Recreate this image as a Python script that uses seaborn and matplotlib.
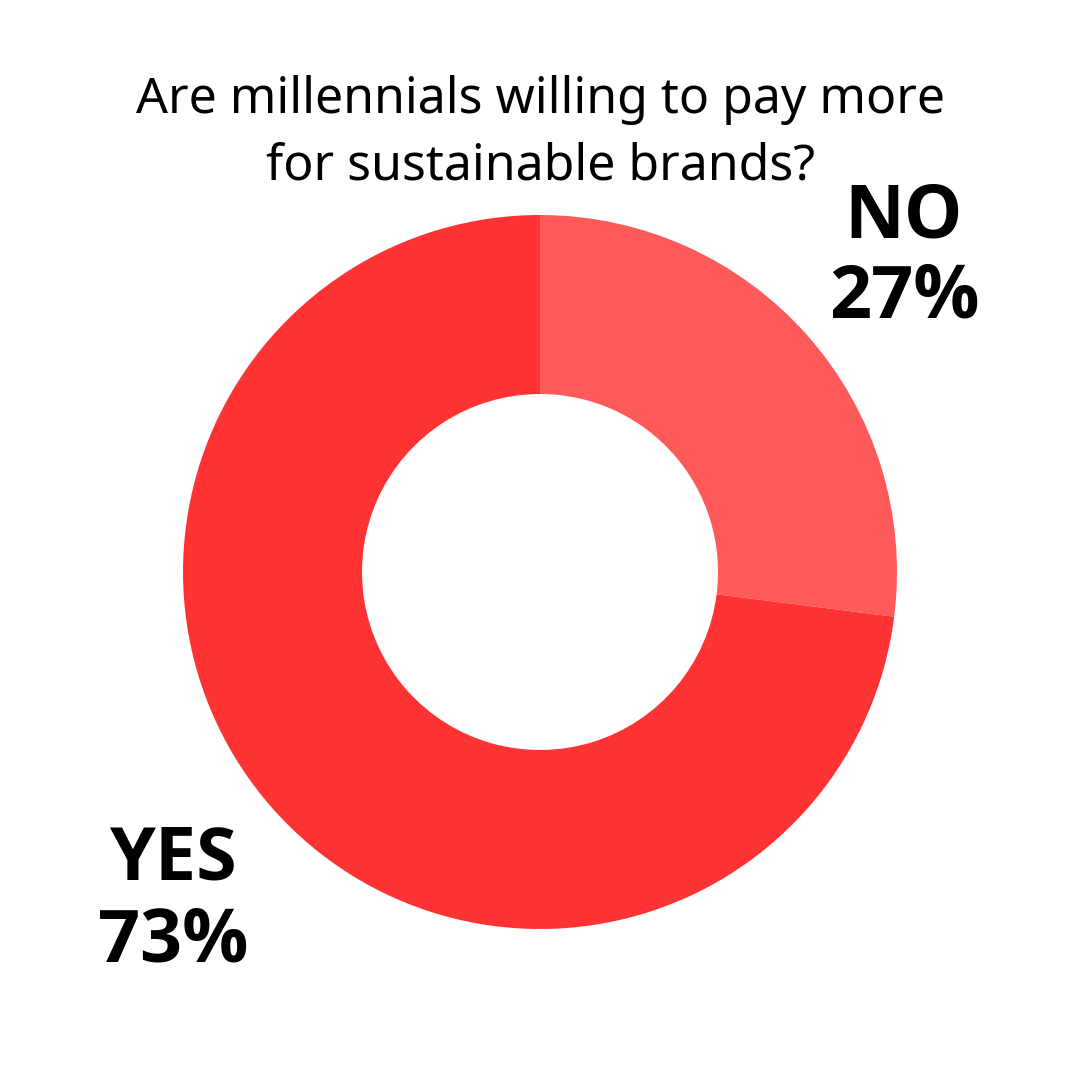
import matplotlib
matplotlib.use("Agg")
import matplotlib.pyplot as plt
import seaborn as sns

title_lines = ["Are millennials willing to pay more", "for sustainable brands?"]
categories = ["NO", "YES"]
values = [27, 73]
colors = ["#FF5A5A", "#FF3333"]

sns.set_theme(style="white")
plt.rcParams['font.family'] = ['Noto Sans', 'DejaVu Sans']

fig = plt.figure(figsize=(10.8, 10.8), dpi=100)
ax = fig.add_axes([0, 0, 1, 1])

ax.pie(values, colors=colors, startangle=90, counterclock=False,
       center=(540, 508), radius=357,
       wedgeprops=dict(width=179, edgecolor='none', linewidth=0),
       frame=True)
ax.set_xlim(0, 1080)
ax.set_ylim(0, 1080)
ax.set_aspect('equal')
ax.axis('off')

ax.text(540, 1080 - 100, title_lines[0], ha='center', va='center', fontsize=36, color='black')
ax.text(540, 1080 - 166, title_lines[1], ha='center', va='center', fontsize=36, color='black')

label_pos = {"NO": (904, 1080 - 218, 1080 - 298), "YES": (173, 1080 - 861, 1080 - 943)}
for cat, val in zip(categories, values):
    x, y1, y2 = label_pos[cat]
    ax.text(x, y1, cat, ha='center', va='center', fontsize=53, fontweight='bold',
            family=['Open Sans', 'DejaVu Sans'], color='black')
    ax.text(x, y2, f"{val}%", ha='center', va='center', fontsize=53, fontweight='bold',
            family=['Open Sans', 'DejaVu Sans'], color='black')

fig.savefig("out.png", dpi=100, facecolor='white')
